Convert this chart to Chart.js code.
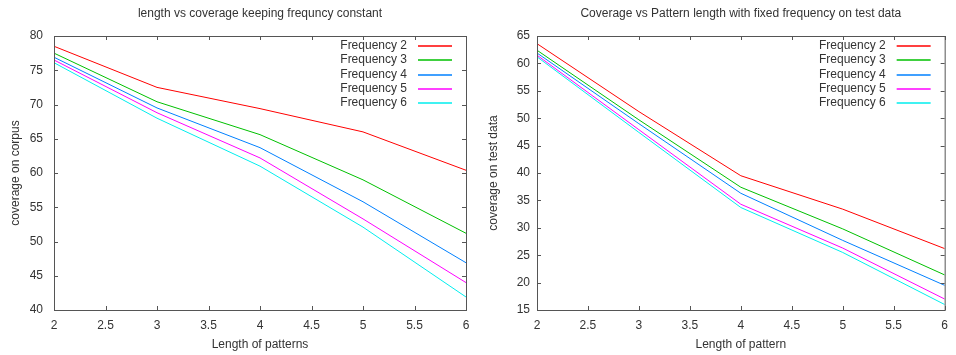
<!DOCTYPE html>
<html>
<head>
<meta charset="utf-8">
<script src="https://cdn.jsdelivr.net/npm/chart.js@4"></script>
<style>
  body { margin: 0; background: #fff; }
  .row { display: flex; width: 956px; height: 355px; }
  canvas { display: block; }
</style>
</head>
<body>
<div class="row">
  <canvas id="corpusChart" width="478" height="355"></canvas>
  <canvas id="testChart" width="478" height="355"></canvas>
</div>
<script>
// Pattern lengths (x axis)
const LENGTHS = [2, 3, 4, 5, 6];
const FREQ_LABELS = ['Frequency 2', 'Frequency 3', 'Frequency 4', 'Frequency 5', 'Frequency 6'];

// Coverage on corpus, one array per frequency
const corpusFreq2 = [78.5, 72.5, 69.4, 66.0, 60.4];
const corpusFreq3 = [77.5, 70.4, 65.6, 59.0, 51.2];
const corpusFreq4 = [76.9, 69.5, 63.7, 55.8, 46.9];
const corpusFreq5 = [76.5, 68.8, 62.2, 53.3, 44.0];
const corpusFreq6 = [76.1, 68.0, 61.0, 52.1, 41.9];

// Coverage on test data, one array per frequency
const testFreq2 = [63.6, 51.2, 39.5, 33.4, 26.2];
const testFreq3 = [62.4, 49.7, 37.4, 29.8, 21.4];
const testFreq4 = [61.9, 49.0, 36.3, 27.7, 19.5];
const testFreq5 = [61.5, 47.9, 34.3, 26.3, 17.0];
const testFreq6 = [61.2, 47.4, 33.7, 25.5, 16.0];

// gnuplot-like default line colours
const LINE_COLORS = ['#ff0000', '#00c000', '#0080ff', '#ff00ff', '#00eeee'];

const FONT = { family: '"Liberation Sans", Arial, sans-serif', size: 12 };
const TEXT_COLOR = '#333';
const FRAME_COLOR = '#555';

Chart.defaults.font.family = FONT.family;
Chart.defaults.font.size = FONT.size;
Chart.defaults.color = TEXT_COLOR;

// Box round the plot with inward ticks on all four sides
const framePlugin = {
    id: 'frame',
    afterDatasetsDraw(chart) {
        const { ctx, chartArea: a, scales } = chart;
        ctx.save();
        ctx.strokeStyle = FRAME_COLOR;
        ctx.lineWidth = 1;
        ctx.strokeRect(a.left + 0.5, a.top + 0.5, a.right - a.left, a.bottom - a.top);
        ctx.beginPath();
        scales.x.ticks.forEach(t => {
            const px = Math.round(scales.x.getPixelForValue(t.value)) + 0.5;
            ctx.moveTo(px, a.bottom); ctx.lineTo(px, a.bottom - 4);
            ctx.moveTo(px, a.top); ctx.lineTo(px, a.top + 4);
        });
        scales.y.ticks.forEach(t => {
            const py = Math.round(scales.y.getPixelForValue(t.value)) + 0.5;
            ctx.moveTo(a.left, py); ctx.lineTo(a.left + 4, py);
            ctx.moveTo(a.right, py); ctx.lineTo(a.right - 4, py);
        });
        ctx.stroke();
        ctx.restore();
    }
};

// gnuplot-style key: label text then a line sample, top right inside the plot
const keyPlugin = {
    id: 'key',
    afterDraw(chart) {
        const { ctx, chartArea: a } = chart;
        const sampleEnd = a.right - 14;
        const sampleStart = sampleEnd - 34;
        const textRight = sampleStart - 11;
        ctx.save();
        ctx.font = `${FONT.size}px ${FONT.family}`;
        ctx.textAlign = 'right';
        ctx.textBaseline = 'middle';
        chart.data.datasets.forEach((ds, i) => {
            const y = Math.round(a.top + 10 + i * 14.3);
            ctx.fillStyle = TEXT_COLOR;
            ctx.fillText(ds.label, textRight, y);
            // soft 2px-tall sample, like the anti-aliased key lines of the original
            ctx.strokeStyle = LINE_COLORS[i];
            ctx.lineWidth = 1.3;
            ctx.beginPath();
            ctx.moveTo(sampleStart, y);
            ctx.lineTo(sampleEnd, y);
            ctx.stroke();
        });
        ctx.restore();
    }
};

const toPoints = (vals) => LENGTHS.map((x, i) => ({ x, y: vals[i] }));

const createCoverageChart = (canvasId, opts) => {
    const ctx = document.getElementById(canvasId).getContext('2d');
    const datasets = opts.series.map((vals, i) => ({
        label: FREQ_LABELS[i],
        data: toPoints(vals),
        borderColor: LINE_COLORS[i],
        backgroundColor: LINE_COLORS[i],
        borderWidth: 1,
        pointRadius: 0,
        tension: 0
    }));

    return new Chart(ctx, {
        type: 'line',
        data: { datasets },
        plugins: [framePlugin, keyPlugin],
        options: {
            responsive: false,
            animation: false,
            layout: { padding: { right: opts.rightPad, left: 0, top: 0, bottom: 0 } },
            plugins: {
                legend: { display: false },
                tooltip: { enabled: false },
                title: {
                    display: true,
                    text: opts.title,
                    fullSize: false,
                    color: TEXT_COLOR,
                    font: { size: 12, weight: 'normal' },
                    padding: { top: 6, bottom: 15.6 }
                }
            },
            scales: {
                x: {
                    type: 'linear',
                    min: 2,
                    max: 6,
                    afterFit: (scale) => { scale.height = 45; },
                    grid: { display: false, drawTicks: false, tickLength: 0 },
                    border: { display: false },
                    ticks: {
                        stepSize: 0.5,
                        padding: 8,
                        color: TEXT_COLOR,
                        callback: (value) => String(value)
                    },
                    title: {
                        display: true,
                        text: opts.xTitle,
                        color: TEXT_COLOR,
                        padding: { top: 0, bottom: 3 }
                    }
                },
                y: {
                    min: opts.yMin,
                    max: opts.yMax,
                    afterFit: (scale) => { scale.width = opts.yWidth; },
                    grid: { display: false, drawTicks: false, tickLength: 0 },
                    border: { display: false },
                    ticks: { stepSize: 5, padding: opts.yTickPad, color: TEXT_COLOR },
                    title: {
                        display: true,
                        text: opts.yTitle,
                        color: TEXT_COLOR,
                        padding: { top: 8, bottom: 0 }
                    }
                }
            }
        }
    });
};

createCoverageChart('corpusChart', {
    title: 'length vs coverage keeping frequncy constant',
    xTitle: 'Length of patterns',
    yTitle: 'coverage on corpus',
    yMin: 40,
    yMax: 80,
    yWidth: 54,
    yTickPad: 11,
    rightPad: 12,
    series: [corpusFreq2, corpusFreq3, corpusFreq4, corpusFreq5, corpusFreq6]
});

createCoverageChart('testChart', {
    title: 'Coverage vs Pattern length with fixed frequency on test data',
    xTitle: 'Length of pattern',
    yTitle: 'coverage on test data',
    yMin: 15,
    yMax: 65,
    yWidth: 59,
    yTickPad: 7,
    rightPad: 5,
    series: [testFreq2, testFreq3, testFreq4, testFreq5, testFreq6]
});
</script>
</body>
</html>
